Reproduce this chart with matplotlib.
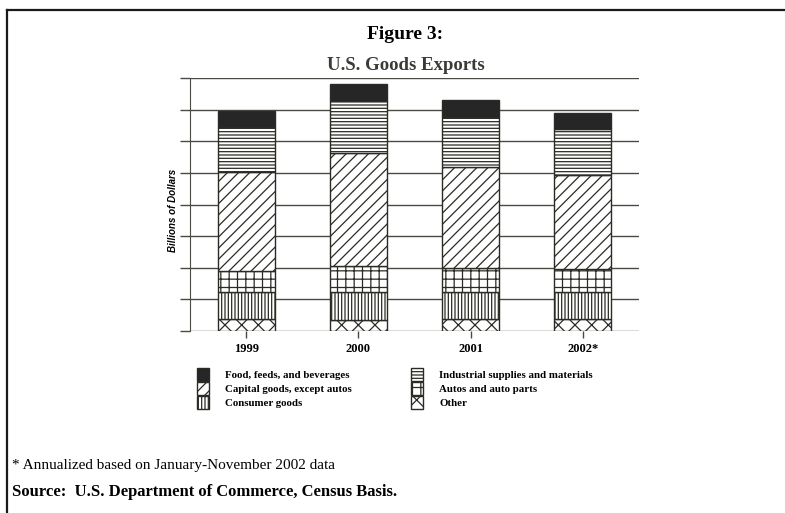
import numpy as np
import matplotlib.pyplot as plt
from matplotlib.patches import Rectangle
from matplotlib.lines import Line2D

# U.S. goods exports, billions of dollars
years = ['1999', '2000', '2001', '2002*']
other = [39, 36, 37, 37]
consumer = [84, 87, 86, 86]
autos = [68, 82, 76, 74]
capital = [311, 357, 321, 295]
industrial = [142, 166, 156, 147]
food = [53, 53, 53, 49]

series = [other, consumer, autos, capital, industrial, food]
names = ['Other', 'Consumer goods', 'Autos and auto parts',
         'Capital goods, except autos', 'Industrial supplies and materials',
         'Food, feeds, and beverages']
hatches = ['xx', '|||||', '++', '///', '-----', None]
faces = ['white', 'white', 'white', 'white', 'white', '#262626']

ink = '#2b2b26'
plt.rcParams['hatch.linewidth'] = 0.9
serif = 'Liberation Serif'

fig = plt.figure(figsize=(7.85, 5.13), dpi=100)
ax = fig.add_axes([190/785, 1 - 331/513, 449/785, 253/513])

x = np.arange(len(years))
bottom = np.zeros(len(years))
for vals, h, fc in zip(series, hatches, faces):
    ax.bar(x, vals, width=0.51, bottom=bottom, facecolor=fc, edgecolor=ink,
           hatch=h, linewidth=1.0, zorder=3)
    bottom += np.array(vals)

ax.set_xlim(-0.5, 3.5)
ax.set_ylim(0, 800)
ax.set_yticks(np.arange(0, 801, 100))
ax.set_yticklabels([])
ax.grid(axis='y', color='#4a4a44', linewidth=1.0, zorder=1)
ax.set_axisbelow(True)
for s in ['top', 'right', 'bottom']:
    ax.spines[s].set_visible(False)
ax.spines['left'].set_color('#4a4a44')
ax.tick_params(axis='y', length=7, color='#4a4a44', width=1)
ax.tick_params(axis='x', length=5, color='#4a4a44', width=1, pad=4)
ax.set_xticks(x)
ax.set_xticklabels(years, fontfamily=serif, fontweight='bold', fontsize=9)
ax.set_ylabel('Billions of Dollars', fontfamily='Liberation Sans',
              fontstyle='italic', fontweight='bold', fontsize=7)
ax.yaxis.set_label_coords(-0.027, 0.478)

fig.text(405/785, 1 - 35/513, 'Figure 3:', ha='center', va='center',
         fontfamily=serif, fontweight='bold', fontsize=14)
fig.text(406/785, 1 - 66/513, 'U.S. Goods Exports', ha='center', va='center',
         fontfamily=serif, fontweight='bold', fontsize=13.5, color='#3a3a36')

# legend, two columns laid out like the original
legend_order = [5, 3, 1, 4, 2, 0]
cols = [203, 417]
rows = [375, 389, 403]
for k, idx in enumerate(legend_order):
    cx = cols[k // 3]
    cy = rows[k % 3]
    fig.add_artist(Rectangle(((cx - 6)/785, 1 - (cy + 6)/513), 12/785, 13/513,
                             transform=fig.transFigure, facecolor=faces[idx],
                             edgecolor=ink, hatch=hatches[idx], linewidth=1.0))
    fig.text((cx + 22)/785, 1 - cy/513, names[idx], ha='left', va='center',
             fontfamily=serif, fontweight='bold', fontsize=7.8)

fig.text(12/785, 1 - 465/513, '* Annualized based on January-November 2002 data',
         ha='left', va='center', fontfamily=serif, fontsize=11)
fig.text(12/785, 1 - 492/513, 'Source:  U.S. Department of Commerce, Census Basis.',
         ha='left', va='center', fontfamily=serif, fontweight='bold', fontsize=12)

# page frame
fig.add_artist(Line2D([7/785, 1], [1 - 10/513, 1 - 10/513],
                      transform=fig.transFigure, color='#1a1a1a', linewidth=1.6))
fig.add_artist(Line2D([7/785, 7/785], [0, 1 - 10/513],
                      transform=fig.transFigure, color='#1a1a1a', linewidth=1.6))

fig.savefig('out.png', dpi=100)
